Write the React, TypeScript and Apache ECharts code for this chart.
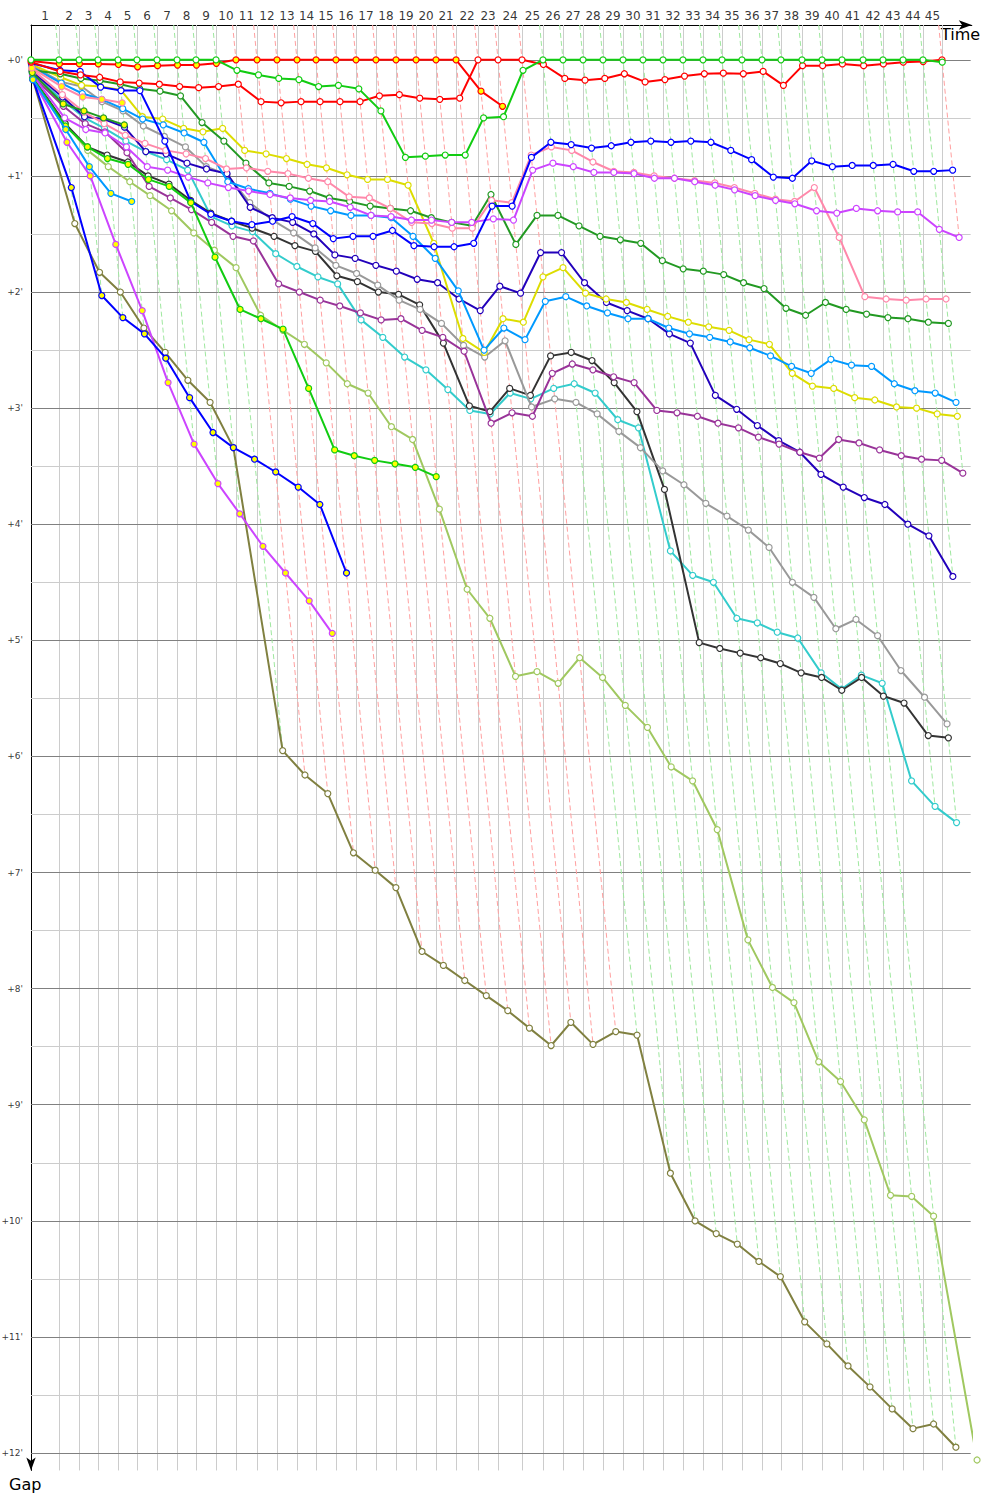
import React, { useEffect, useRef } from "react";
import * as echarts from "echarts";

// Leader's elapsed time (minutes) at the end of each lap, lap 0 = start
const leaderTime = [
  0, 2.5, 4.29, 5.98, 7.77, 9.46, 11.25, 13.04, 14.73, 16.52,
  18.3, 20.18, 21.96, 23.75, 25.45, 27.23, 29.02, 30.8, 32.59, 34.38,
  36.16, 37.95, 39.91, 41.7, 43.84, 45.71, 47.5, 49.29, 51.07, 52.86,
  54.64, 56.43, 58.21, 60.0, 61.7, 63.48, 65.27, 66.96, 68.84, 70.63,
  72.41, 74.29, 76.07, 77.86, 79.64, 81.34,
];

const gapTicks = [0, 1, 2, 3, 4, 5, 6, 7, 8, 9, 10, 11, 12];
const halfLines = [
  0, 0.5, 1, 1.5, 2, 2.5, 3, 3.5, 4, 4.5, 5, 5.5, 6, 6.5, 7, 7.5, 8, 8.5, 9,
  9.5, 10, 10.5, 11, 11.5, 12,
];

// Gap to leader (minutes) per lap, index = lap number
const gapG1 = [
  0, 0, 0, 0, 0, 0, 0, 0, 0, 0,
  0.09, 0.13, 0.16, 0.17, 0.23, 0.22, 0.25, 0.44, 0.84, 0.83,
  0.82, 0.82, 0.5, 0.49, 0.09, 0, 0, 0, 0, 0,
  0, 0, 0, 0, 0, 0, 0, 0, 0, 0,
  0, 0, 0, 0, 0, 0.02,
];
const gapR1 = [
  0.01, 0.035, 0.035, 0.035, 0.04, 0.06, 0.05, 0.045, 0.045, 0.03,
  0, 0, 0, 0, 0, 0, 0, 0, 0, 0,
  0, 0, 0.27, 0.4,
];
const gapR2 = [
  0.02, 0.1, 0.13, 0.15, 0.19, 0.2, 0.21, 0.23, 0.24, 0.23,
  0.21, 0.36, 0.37, 0.36, 0.36, 0.36, 0.36, 0.31, 0.3, 0.33,
  0.34, 0.33, 0, 0, 0, 0.04, 0.16, 0.175, 0.16, 0.12,
  0.19, 0.17, 0.14, 0.12, 0.115, 0.12, 0.1, 0.22, 0.05, 0.05,
  0.035, 0.05, 0.035, 0.02, 0.015, 0,
];
const gapB1 = [
  0.03, 0.09, 0.1, 0.235, 0.265, 0.265, 0.7, 1.22, 1.33, 1.39,
  1.42, 1.39, 1.35, 1.41, 1.54, 1.52, 1.52, 1.47, 1.6, 1.61,
  1.61, 1.58, 1.26, 1.26, 0.84, 0.71, 0.73, 0.76, 0.74, 0.71,
  0.7, 0.71, 0.7, 0.71, 0.78, 0.86, 1.01, 1.02, 0.87, 0.92,
  0.91, 0.91, 0.9, 0.96, 0.96, 0.95,
];
const gapM1 = [
  0.13, 0.5, 0.6, 0.63, 0.75, 0.92, 0.95, 1.01, 1.06, 1.1,
  1.13, 1.16, 1.19, 1.21, 1.22, 1.27, 1.34, 1.35, 1.38, 1.38,
  1.4, 1.4, 1.37, 1.38, 0.95, 0.89, 0.92, 0.97, 0.97, 0.98,
  1.02, 1.02, 1.05, 1.08, 1.12, 1.17, 1.21, 1.24, 1.3, 1.32,
  1.28, 1.3, 1.31, 1.31, 1.46, 1.53,
];
const gapP1 = [
  0.08, 0.3, 0.45, 0.55, 0.65, 0.72, 0.78, 0.81, 0.85, 0.94,
  0.93, 0.96, 0.98, 1.02, 1.05, 1.18, 1.19, 1.28, 1.4, 1.41,
  1.45, 1.45, 1.21, 1.23, 0.82, 0.75, 0.78, 0.88, 0.96, 0.97,
  1.0, 1.02, 1.04, 1.06, 1.1, 1.15, 1.2, 1.22, 1.1, 1.53,
  2.04, 2.06, 2.07, 2.06, 2.06,
];
const gapDG1 = [
  0.09, 0.12, 0.16, 0.18, 0.21, 0.25, 0.27, 0.31, 0.54, 0.7,
  0.89, 1.06, 1.09, 1.13, 1.19, 1.22, 1.26, 1.28, 1.3, 1.36,
  1.4, 1.43, 1.16, 1.59, 1.34, 1.34, 1.43, 1.52, 1.55, 1.58,
  1.73, 1.8, 1.82, 1.85, 1.92, 1.97, 2.14, 2.2, 2.09, 2.15,
  2.19, 2.22, 2.23, 2.26, 2.27,
];
const gapY1 = [
  0.04, 0.15, 0.22, 0.23, 0.26, 0.49, 0.51, 0.59, 0.62, 0.59,
  0.78, 0.81, 0.85, 0.9, 0.93, 0.99, 1.03, 1.03, 1.08, 1.58,
  2.4, 2.52, 2.23, 2.26, 1.87, 1.79, 2.01, 2.06, 2.09, 2.15,
  2.21, 2.26, 2.3, 2.33, 2.41, 2.45, 2.7, 2.81, 2.83, 2.91,
  2.93, 2.99, 3.0, 3.05, 3.07,
];
const gapLB1 = [
  0.06, 0.2, 0.29, 0.34, 0.42, 0.51, 0.56, 0.63, 0.71, 1.05,
  1.11, 1.15, 1.2, 1.26, 1.3, 1.34, 1.34, 1.36, 1.52, 1.71,
  1.99, 2.5, 2.31, 2.41, 2.08, 2.04, 2.12, 2.18, 2.23, 2.23,
  2.31, 2.36, 2.39, 2.43, 2.48, 2.55, 2.64, 2.7, 2.58, 2.63,
  2.64, 2.79, 2.85, 2.87, 2.95,
];
const gapPU1 = [
  0.14, 0.4, 0.55, 0.62, 0.8, 1.09, 1.19, 1.29, 1.4, 1.52,
  1.56, 1.93, 2.0, 2.07, 2.12, 2.18, 2.24, 2.23, 2.33, 2.39,
  2.51, 3.13, 3.04, 3.07, 2.7, 2.62, 2.67, 2.73, 2.78, 3.02,
  3.04, 3.07, 3.13, 3.17, 3.25, 3.31, 3.38, 3.43, 3.27, 3.3,
  3.36, 3.41, 3.44, 3.45, 3.56,
];
const gapNB = [
  0.1, 0.32, 0.49, 0.51, 0.58, 0.79, 0.81, 0.89, 0.94, 0.98,
  1.27, 1.36, 1.4, 1.5, 1.68, 1.71, 1.77, 1.82, 1.89, 1.92,
  2.06, 2.16, 1.95, 2.01, 1.66, 1.66, 1.92, 2.09, 2.16, 2.23,
  2.36, 2.44, 2.89, 3.01, 3.15, 3.28, 3.38, 3.57, 3.68, 3.77,
  3.83, 4.0, 4.1, 4.45,
];
const gapGR = [
  0.05, 0.19, 0.23, 0.36, 0.44, 0.57, 0.66, 0.75, 0.92, 0.99,
  1.23, 1.38, 1.49, 1.62, 1.77, 1.84, 1.94, 2.07, 2.15, 2.27,
  2.46, 2.56, 2.42, 2.99, 2.92, 2.95, 3.05, 3.2, 3.34, 3.54,
  3.66, 3.82, 3.93, 4.05, 4.2, 4.5, 4.63, 4.9, 4.82, 4.96,
  5.26, 5.49, 5.72,
];
const gapBK = [
  0.15, 0.55, 0.75, 0.82, 0.88, 1.0, 1.07, 1.21, 1.32, 1.39,
  1.45, 1.52, 1.6, 1.65, 1.86, 1.91, 2.0, 2.02, 2.11, 2.44,
  2.98, 3.03, 2.83, 2.89, 2.55, 2.52, 2.59, 2.78, 3.03, 3.7,
  5.02, 5.07, 5.11, 5.15, 5.2, 5.28, 5.32, 5.43, 5.32, 5.48,
  5.54, 5.82, 5.84,
];
const gapCY = [
  0.12, 0.35, 0.5, 0.59, 0.7, 0.79, 0.86, 0.95, 1.35, 1.43,
  1.48, 1.67, 1.78, 1.87, 1.93, 2.24, 2.39, 2.56, 2.67, 2.84,
  3.02, 3.05, 2.87, 2.92, 2.83, 2.79, 2.87, 3.1, 3.17, 4.23,
  4.44, 4.5, 4.81, 4.85, 4.93, 4.98, 5.28, 5.42, 5.3, 5.37,
  6.21, 6.43, 6.57,
];
const gapOL = [
  0.17, 1.41, 1.83, 2.0, 2.31, 2.52, 2.76, 2.95, 3.34, 5.95,
  6.16, 6.32, 6.83, 6.98, 7.13, 7.68, 7.8, 7.93, 8.06, 8.19,
  8.34, 8.49, 8.29, 8.48, 8.37, 8.4, 9.59, 10.0, 10.11, 10.2,
  10.35, 10.48, 10.87, 11.06, 11.25, 11.43, 11.62, 11.79, 11.75, 11.95,
];
const gapLG = [
  0.17, 0.55, 0.78, 0.92, 1.05, 1.17, 1.3, 1.49, 1.64, 1.79,
  2.2, 2.33, 2.45, 2.61, 2.79, 2.87, 3.16, 3.27, 3.87, 4.56,
  4.81, 5.31, 5.27, 5.37, 5.15, 5.32, 5.56, 5.75, 6.09, 6.21,
  6.63, 7.58, 7.99, 8.12, 8.63, 8.8, 9.13, 9.78, 9.79, 9.96,
  12.06,
];
const gapG3 = [0.16, 0.57, 0.75, 0.85, 0.9, 1.03, 1.09, 1.23, 1.7, 2.15, 2.23, 2.32, 2.83, 3.36, 3.41, 3.45, 3.48, 3.51, 3.59];
const gapB2 = [0.17, 1.1, 2.03, 2.22, 2.36, 2.57, 2.91, 3.21, 3.34, 3.44, 3.55, 3.68, 3.83, 4.42];
const gapM2 = [0.17, 0.71, 1.0, 1.59, 2.16, 2.78, 3.31, 3.65, 3.91, 4.19, 4.42, 4.66, 4.94];
const gapLB2 = [0.17, 0.6, 0.92, 1.15, 1.22];
const gapDG2 = [0.11, 0.38, 0.44, 0.5, 0.56];
const gapP2 = [0.07, 0.23, 0.32, 0.34, 0.37];

type Driver = { color: string; fill: string; dash: string; gaps: number[] };

const OPEN = "#ffffff";
const YEL = "#ffff00";
const GREEN_DASH = "#9fe89f";
const RED_DASH = "#ffa0a0";

// drawing order: back markers first, leaders last
const drivers: Driver[] = [
  { color: "#808040", fill: OPEN, dash: GREEN_DASH, gaps: gapOL },
  { color: "#a0c860", fill: OPEN, dash: GREEN_DASH, gaps: gapLG },
  { color: "#33cccc", fill: OPEN, dash: GREEN_DASH, gaps: gapCY },
  { color: "#333333", fill: OPEN, dash: GREEN_DASH, gaps: gapBK },
  { color: "#999999", fill: OPEN, dash: GREEN_DASH, gaps: gapGR },
  { color: "#2200bb", fill: OPEN, dash: GREEN_DASH, gaps: gapNB },
  { color: "#993399", fill: OPEN, dash: GREEN_DASH, gaps: gapPU1 },
  { color: "#dddd00", fill: OPEN, dash: GREEN_DASH, gaps: gapY1 },
  { color: "#0099ff", fill: OPEN, dash: GREEN_DASH, gaps: gapLB1 },
  { color: "#229922", fill: OPEN, dash: GREEN_DASH, gaps: gapDG1 },
  { color: "#ff88aa", fill: OPEN, dash: GREEN_DASH, gaps: gapP1 },
  { color: "#cc44ff", fill: OPEN, dash: GREEN_DASH, gaps: gapM1 },
  { color: "#0000ff", fill: OPEN, dash: GREEN_DASH, gaps: gapB1 },
  { color: "#cc44ff", fill: YEL, dash: GREEN_DASH, gaps: gapM2 },
  { color: "#0000ff", fill: YEL, dash: GREEN_DASH, gaps: gapB2 },
  { color: "#11cc11", fill: YEL, dash: GREEN_DASH, gaps: gapG3 },
  { color: "#0099ff", fill: YEL, dash: GREEN_DASH, gaps: gapLB2 },
  { color: "#229922", fill: YEL, dash: GREEN_DASH, gaps: gapDG2 },
  { color: "#ff88aa", fill: YEL, dash: GREEN_DASH, gaps: gapP2 },
  { color: "#ff0000", fill: OPEN, dash: RED_DASH, gaps: gapR2 },
  { color: "#ff0000", fill: YEL, dash: RED_DASH, gaps: gapR1 },
  { color: "#11cc11", fill: OPEN, dash: GREEN_DASH, gaps: gapG1 },
];

const Y_MIN = -0.3;
const Y_MAX = 12.15;
const X_MAX = 84;
const FONT = "DejaVu Sans";

export default function App() {
  const ref = useRef<HTMLDivElement>(null);

  useEffect(() => {
    document.body.style.margin = "0";
    if (!ref.current) return;
    const chart = echarts.init(ref.current, null, { renderer: "svg" });

    const lapMid = leaderTime.slice(1).map((t, i) => [
      (leaderTime[i] + t) / 2,
      Y_MIN,
      i + 1,
    ]);

    // dashed line per lap through all drivers' points of that lap
    const dashData: any[] = [];
    for (let k = 1; k < leaderTime.length; k++) {
      let gmax = -Infinity;
      let gmin = Infinity;
      let leader: Driver | null = null;
      drivers.forEach((d) => {
        if (d.gaps.length > k) {
          const g = d.gaps[k];
          if (g > gmax) gmax = g;
          if (g < gmin) {
            gmin = g;
            leader = d;
          }
        }
      });
      const col = leader ? (leader as Driver).dash : GREEN_DASH;
      dashData.push([
        {
          coord: [leaderTime[k] + Y_MIN, Y_MIN],
          lineStyle: { color: col, width: 1, type: [5, 3] },
        },
        { coord: [leaderTime[k] + gmax, gmax] },
      ]);
    }

    const driverSeries = drivers.map((d, i) => ({
      type: "line",
      z: 10 + i,
      silent: true,
      clip: false,
      data: d.gaps.map((g, k) => [leaderTime[k] + g, g]),
      symbol: "circle",
      symbolSize: 6,
      showAllSymbol: true,
      lineStyle: { color: d.color, width: 2 },
      itemStyle: { color: d.fill, borderColor: d.color, borderWidth: 1.2 },
      emphasis: { disabled: true },
    }));

    const option: any = {
      animation: false,
      grid: { left: 31, top: 25, width: X_MAX * 11.2, height: (Y_MAX - Y_MIN) * 116.1 },
      xAxis: {
        type: "value",
        min: 0,
        max: X_MAX,
        position: "top",
        axisLine: {
          show: true,
          onZero: false,
          symbol: ["none", "arrow"],
          symbolSize: [7, 13],
          lineStyle: { color: "#000", width: 1 },
        },
        axisTick: { show: false },
        axisLabel: { show: false },
        splitLine: { show: false },
      },
      yAxis: {
        type: "value",
        inverse: true,
        min: Y_MIN,
        max: Y_MAX,
        axisLine: {
          show: true,
          onZero: false,
          symbol: ["arrow", "none"],
          symbolSize: [7, 13],
          lineStyle: { color: "#000", width: 1 },
        },
        axisTick: { show: false },
        axisLabel: { show: false },
        splitLine: { show: false },
      },
      graphic: [
        { type: "text", left: 941, top: 26, style: { text: "Time", fontSize: 16, fill: "#000", fontFamily: FONT } },
        { type: "text", left: 9, top: 1476, style: { text: "Gap", fontSize: 16, fill: "#000", fontFamily: FONT } },
      ],
      series: [
        {
          type: "line",
          data: [],
          z: 1,
          silent: true,
          markLine: {
            silent: true,
            symbol: ["none", "none"],
            label: { show: false },
            emphasis: { disabled: true },
            lineStyle: { color: "#cccccc", width: 1, type: "solid" },
            data: leaderTime.slice(1).map((t) => ({ xAxis: t })),
          },
        },
        {
          type: "line",
          data: [],
          z: 2,
          silent: true,
          markLine: {
            silent: true,
            symbol: ["none", "none"],
            label: { show: false },
            emphasis: { disabled: true },
            lineStyle: { width: 1, type: "solid" },
            data: halfLines.map((v) => [
              { coord: [0, v], lineStyle: { color: v % 1 === 0 ? "#808080" : "#cccccc", width: 1, type: "solid" } },
              { coord: [X_MAX - 0.1, v] },
            ]),
          },
        },
        {
          type: "line",
          data: [],
          z: 3,
          silent: true,
          markLine: {
            silent: true,
            symbol: ["none", "none"],
            label: { show: false },
            emphasis: { disabled: true },
            data: dashData,
          },
        },
        {
          type: "scatter",
          z: 4,
          silent: true,
          clip: false,
          symbolSize: 0,
          data: lapMid,
          label: {
            show: true,
            position: "top",
            distance: 3,
            formatter: (p: any) => String(p.value[2]),
            fontSize: 12,
            fontFamily: FONT,
            color: "#000",
          },
        },
        {
          type: "scatter",
          z: 4,
          silent: true,
          clip: false,
          symbolSize: 0,
          data: gapTicks.map((v) => [0, v]),
          label: {
            show: true,
            position: "left",
            distance: 8,
            formatter: (p: any) => "+" + p.value[1] + "'",
            fontSize: 9,
            fontFamily: FONT,
            color: "#000",
          },
        },
        ...driverSeries,
      ],
    };

    chart.setOption(option);
    return () => chart.dispose();
  }, []);

  return <div ref={ref} style={{ width: 1000, height: 1500 }} />;
}
